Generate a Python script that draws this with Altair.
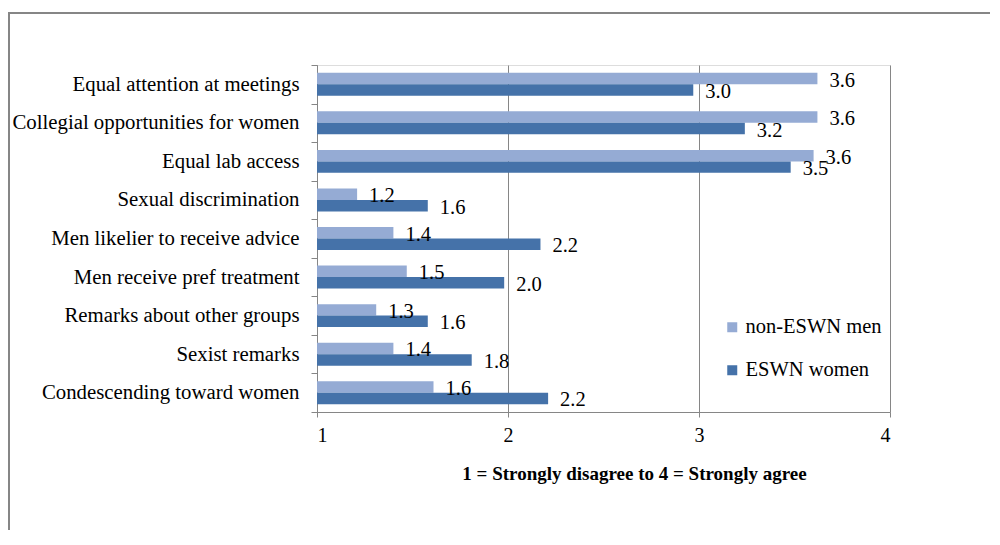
import altair as alt
import pandas as pd

categories = [
    "Equal attention at meetings",
    "Collegial opportunities for women",
    "Equal lab access",
    "Sexual discrimination",
    "Men likelier to receive advice",
    "Men receive pref treatment",
    "Remarks about other groups",
    "Sexist remarks",
    "Condescending toward women",
]
series_names = ["non-ESWN men", "ESWN women"]
men_values = [3.62, 3.62, 3.60, 1.21, 1.40, 1.47, 1.31, 1.40, 1.61]
women_values = [2.97, 3.24, 3.48, 1.58, 2.17, 1.98, 1.58, 1.81, 2.21]
colors = ["#95ABD4", "#4572A9"]
x_ticks = [1, 2, 3, 4]
baseline_value = 1

rows = []
for c, m, w in zip(categories, men_values, women_values):
    rows.append({"category": c, "series": series_names[0], "value": m})
    rows.append({"category": c, "series": series_names[1], "value": w})
df = pd.DataFrame(rows)

FONT = "'Liberation Serif', 'Times New Roman', Times, 'DejaVu Serif', serif"
GRAY = "#868686"

y_enc = alt.Y(
    "category:N",
    sort=categories,
    scale=alt.Scale(paddingInner=0, paddingOuter=0),
    axis=alt.Axis(
        title=None,
        labelFont=FONT,
        labelFontSize=20.8,
        labelColor="black",
        labelPadding=12,
        labelLimit=400,
        domainColor=GRAY,
        tickColor=GRAY,
        tickSize=6,
        tickBand="extent",
        grid=False,
    ),
)
yoff_enc = alt.YOffset("series:N", sort=series_names, scale=alt.Scale(paddingOuter=0.68, paddingInner=0))
x_enc = alt.X(
    "value:Q",
    scale=alt.Scale(domain=[1, 4], nice=False, zero=False),
    axis=alt.Axis(
        values=x_ticks,
        format="d",
        title="1 = Strongly disagree to 4 = Strongly agree",
        titleFont=FONT,
        titleFontSize=19,
        titleFontWeight="bold",
        titleColor="black",
        titleX=317,
        titleY=61,
        titleAlign="center",
        titleBaseline="middle",
        labelFont=FONT,
        labelFontSize=20,
        labelColor="black",
        labelPadding=8,
        domainColor=GRAY,
        tickColor=GRAY,
        tickSize=5,
        grid=True,
        gridColor=GRAY,
        gridWidth=1,
    ),
)

bars = alt.Chart(df).mark_bar().encode(
    x=x_enc,
    x2=alt.datum(baseline_value),
    y=y_enc,
    yOffset=yoff_enc,
    color=alt.Color(
        "series:N",
        sort=series_names,
        scale=alt.Scale(domain=series_names, range=colors),
        legend=alt.Legend(
            title=None,
            orient="none",
            legendX=405,
            legendY=252,
            symbolType="square",
            symbolSize=100,
            symbolStrokeWidth=0,
            labelFont=FONT,
            labelFontSize=20.5,
            labelColor="black",
            labelOffset=3,
            rowPadding=22,
        ),
    ),
)

labels = alt.Chart(df).mark_text(
    align="left", baseline="middle", dx=12, dy=2, font=FONT, fontSize=20.5, color="black"
).encode(
    x="value:Q",
    y=alt.Y("category:N", sort=categories),
    yOffset=alt.YOffset("series:N", sort=series_names),
    text=alt.Text("value:Q", format=".1f"),
)

frame_data = alt.Data(values=[{"k": 0}])
frame_top = alt.Chart(frame_data).mark_rule(color=GRAY, strokeWidth=2).encode(
    x=alt.value(-309), x2=alt.value(680), y=alt.value(-52)
)
frame_left = alt.Chart(frame_data).mark_rule(color=GRAY, strokeWidth=2).encode(
    x=alt.value(-308), y=alt.value(-53), y2=alt.value(480)
)

chart = (
    alt.layer(bars, labels, frame_top, frame_left)
    .properties(
        width=573,
        height=347,
        autosize=alt.AutoSizeParams(type="none"),
        padding={"left": 309, "top": 57, "right": 100, "bottom": 118},
    )
    .configure_view(stroke=None)
    .configure(background="white")
)

chart.save("out.html", embed_options={"renderer": "svg", "actions": False})
